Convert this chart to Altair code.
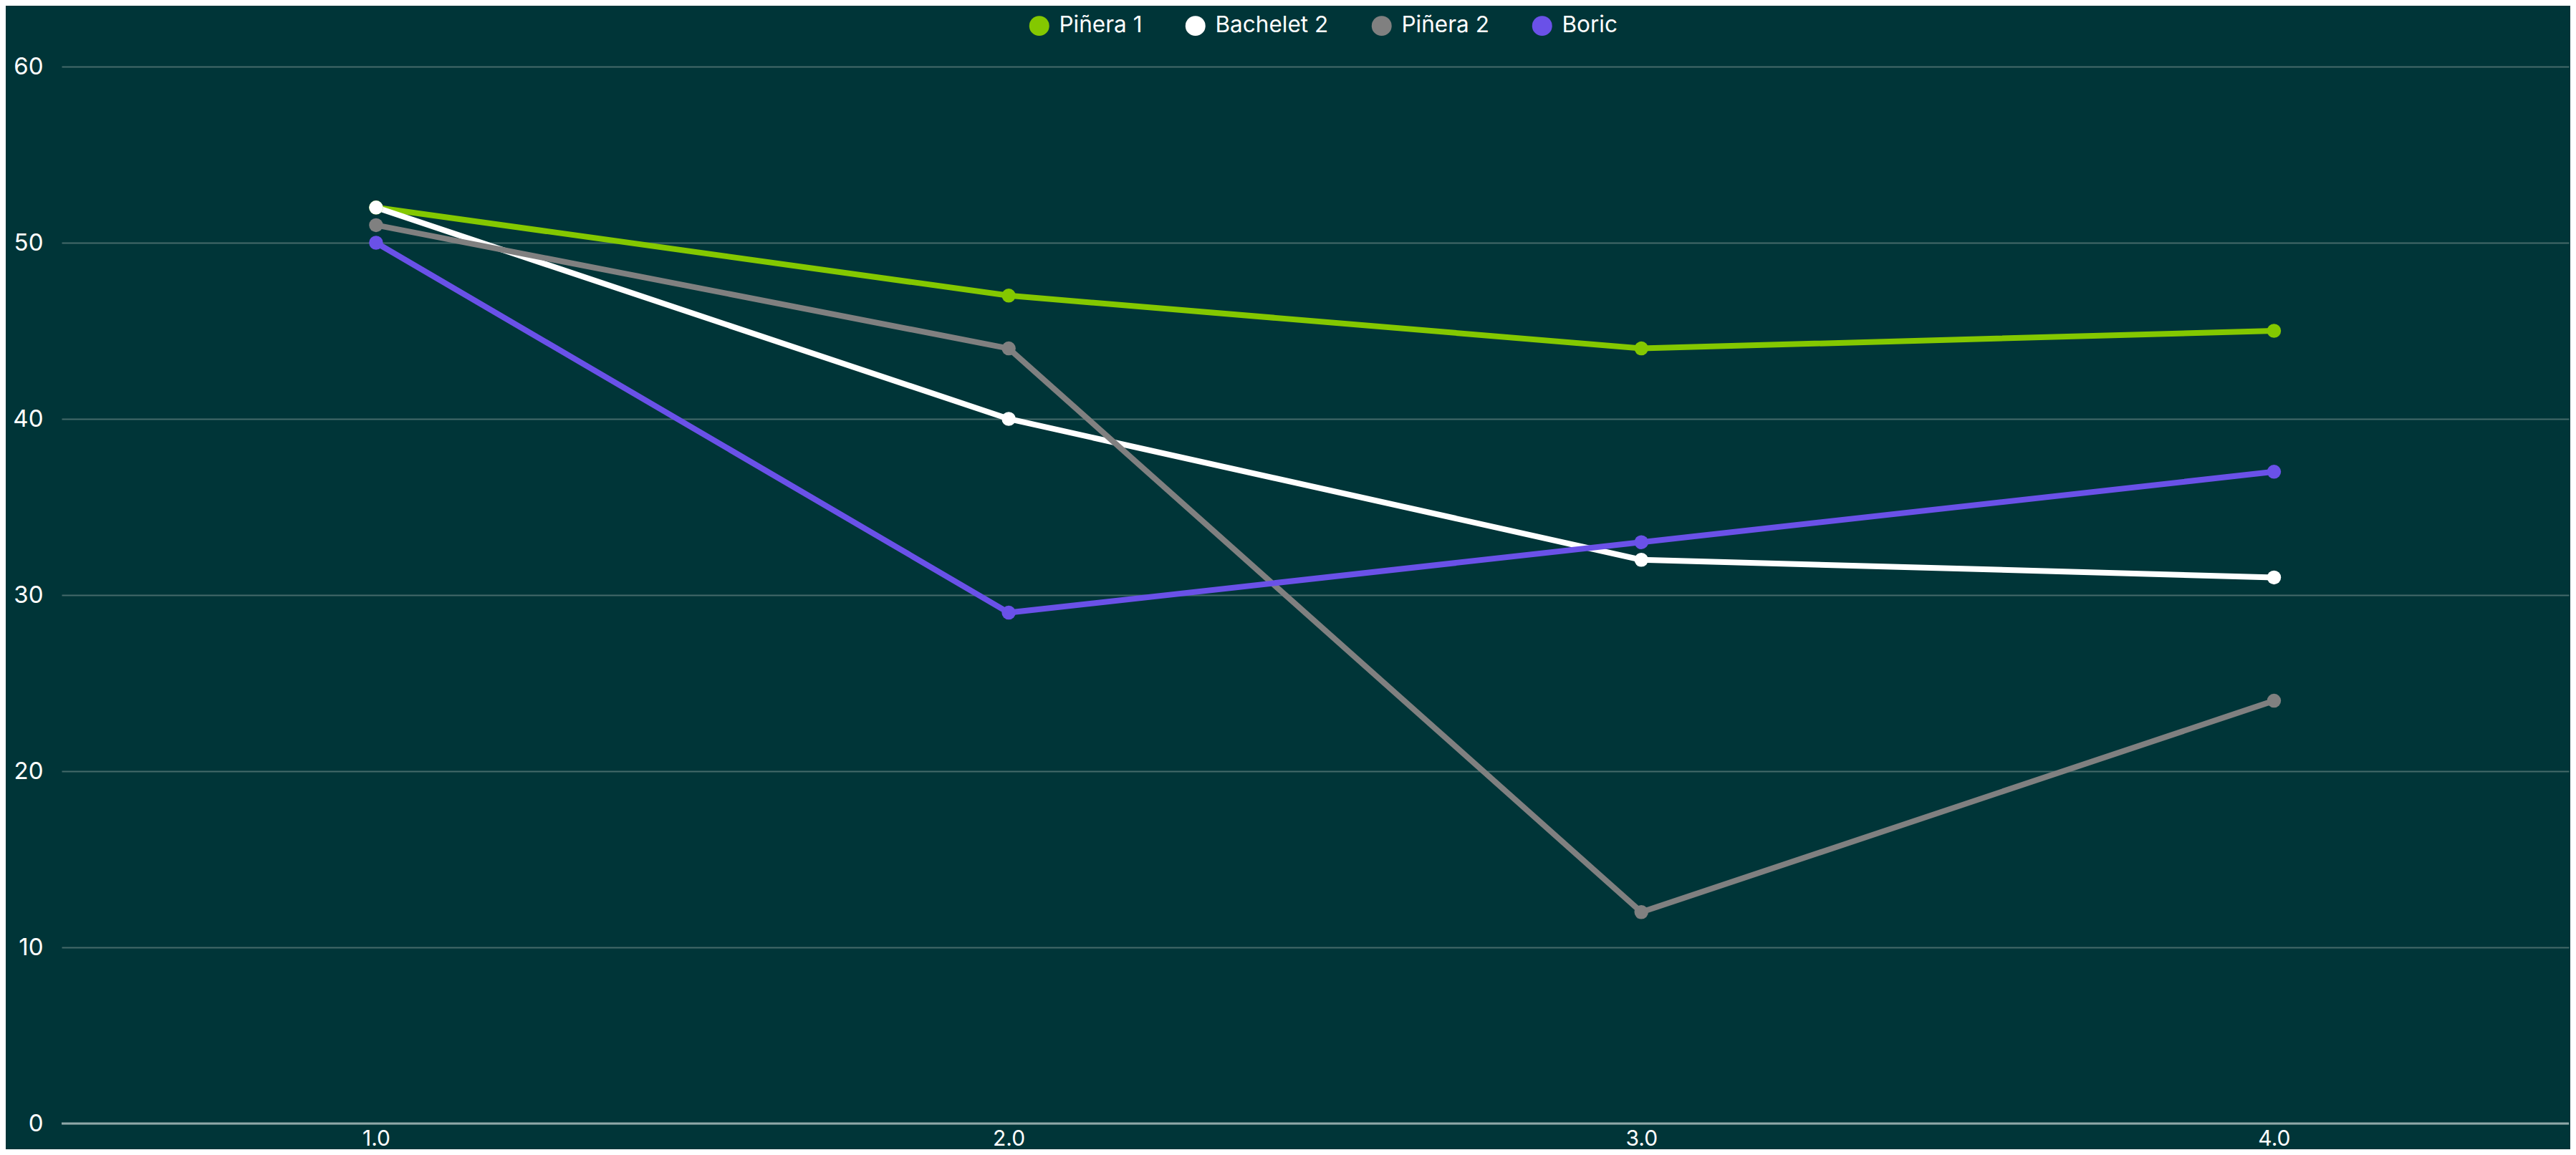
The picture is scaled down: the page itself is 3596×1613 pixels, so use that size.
import altair as alt
import pandas as pd

x_vals = [1.0, 2.0, 3.0, 4.0]
series_names = ["Piñera 1", "Bachelet 2", "Piñera 2", "Boric"]
pinera1 = [52, 47, 44, 45]
bachelet2 = [52, 40, 32, 31]
pinera2 = [51, 44, 12, 24]
boric = [50, 29, 33, 37]
colors = ["#84C800", "#FFFFFF", "#808080", "#6A51E8"]
y_ticks = [0, 10, 20, 30, 40, 50, 60]

rows = []
for k, (name, vals) in enumerate(zip(series_names, [pinera1, bachelet2, pinera2, boric])):
    for x, v in zip(x_vals, vals):
        rows.append({"x": x, "value": v, "series": name, "order": k})
df = pd.DataFrame(rows)

font = "Inter"
color_scale = alt.Scale(domain=series_names, range=colors)

base = alt.Chart(df).encode(
    x=alt.X("x:Q", scale=alt.Scale(domain=[0.503, 4.466], nice=False, zero=False),
            axis=alt.Axis(values=x_vals, format=".1f", title=None, grid=False,
                          ticks=False, domain=False, labelPadding=6, labelFontSize=30)),
    y=alt.Y("value:Q", scale=alt.Scale(domain=[0, 60], nice=False),
            axis=alt.Axis(values=y_ticks, title=None, ticks=False, domain=False,
                          labelPadding=26, labelFontSize=33, gridColor="#456A6A", gridWidth=2)),
    color=alt.Color("series:N", scale=color_scale, sort=series_names,
                    legend=alt.Legend(title=None, orient="none", direction="horizontal",
                                      legendX=1349, legendY=-73,
                                      symbolType="circle", symbolSize=780,
                                      symbolStrokeWidth=0, labelFontSize=31.5,
                                      labelLimit=0,
                                      labelColor="#FFFFFF", labelFont=font,
                                      columnPadding=58, labelOffset=12)),
    detail="series:N",
)

lines = base.mark_line(strokeWidth=8).encode(order=alt.Order("order:Q"))
points = base.mark_point(filled=True, size=380, opacity=1)

baseline = alt.Chart(pd.DataFrame({"y": [0]})).mark_rule(color="#8FA8A8", strokeWidth=3).encode(
    y="y:Q"
)

chart = alt.layer(lines, points, baseline).properties(
    width=3580, height=1597, background="#003538",
    padding={"left": 9, "right": 0, "top": 69, "bottom": 0},
    autosize=alt.AutoSizeParams(type="fit", contains="padding"),
).configure_view(stroke=None).configure_axis(
    labelFont=font, labelFontSize=30, labelColor="#FFFFFF"
)

chart.save("out.html", embed_options={"renderer": "svg", "actions": False})
